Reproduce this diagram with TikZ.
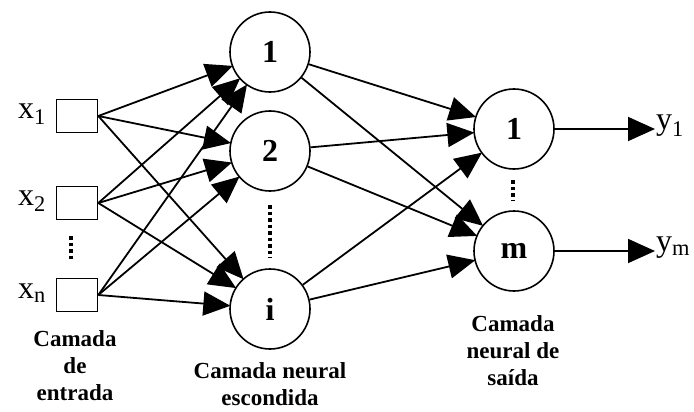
\documentclass[tikz,border=0pt]{standalone}
\usepackage{fontspec}
\setmainfont{Liberation Serif}
\usetikzlibrary{arrows.meta}
\begin{document}
\begin{tikzpicture}[x=1pt,y=-1pt,
  inbox/.style={draw,line width=1.6pt,minimum width=41pt,minimum height=33pt,inner sep=0pt},
  neuron/.style={draw,circle,line width=1.6pt,minimum size=80pt,inner sep=0pt,font=\fontsize{32}{32}\selectfont\bfseries},
  conn/.style={line width=1.8pt,-{Triangle[length=27pt,width=24pt]},shorten >=-1pt},
  varlab/.style={font=\fontsize{32}{32}\selectfont,inner sep=0pt},
  layerlab/.style={font=\fontsize{23}{27}\selectfont\bfseries,align=center,inner sep=0pt},
  vdots/.style={line width=4pt,dash pattern=on 3.5pt off 3pt}]
\useasboundingbox (0,0) rectangle (694,412);
% input boxes
\node[inbox] (i1) at (77,116) {};
\node[inbox] (i2) at (77,203) {};
\node[inbox] (in) at (77,295) {};
\node[varlab,anchor=east] (lx1) at (46,114) {x\textsubscript{1}};
\node[varlab,anchor=east] (lx2) at (46,201) {x\textsubscript{2}};
\node[varlab,anchor=east] (lxn) at (46,293) {x\textsubscript{n}};
% hidden
\node[neuron] (h1) at (270,52) {1};
\node[neuron] (h2) at (270,151) {2};
\node[neuron] (hi) at (270,309) {i};
% output
\node[neuron] (o1) at (514,129) {1};
\node[neuron] (om) at (514,251) {m};
% dots
\coordinate (d1a) at (71,236); \coordinate (d1b) at (71,261);
\draw[vdots] (d1a) -- (d1b);
\coordinate (d2a) at (270,205); \coordinate (d2b) at (270,258);
\draw[vdots] (d2a) -- (d2b);
\coordinate (d3a) at (513,180); \coordinate (d3b) at (513,201);
\draw[vdots] (d3a) -- (d3b);
% connections
\foreach \s in {i1,i2,in}{
  \foreach \t in {h1,h2,hi}{
    \draw[conn] (\s.east) -- (\t);
  }
}
\foreach \s in {h1,h2,hi}{
  \foreach \t in {o1,om}{
    \draw[conn] (\s) -- (\t);
  }
}
% outputs
\coordinate (y1e) at (654,129);
\coordinate (yme) at (654,251);
\draw[conn] (o1) -- (y1e);
\draw[conn] (om) -- (yme);
\node[varlab,anchor=west] (ly1) at (656,126) {y\textsubscript{1}};
\node[varlab,anchor=west] (lym) at (656,248) {y\textsubscript{m}};
% layer labels
\node[layerlab] (lin) at (75,366) {Camada\\de\\entrada};
\node[layerlab] (lhid) at (270,384) {Camada neural\\escondida};
\node[layerlab] (lout) at (513,351) {Camada\\neural de\\saída};
\end{tikzpicture}
\end{document}
